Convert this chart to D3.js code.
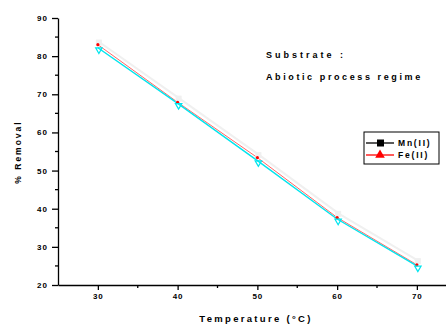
<!DOCTYPE html>
<html><head><meta charset="utf-8">
<script src="https://cdn.jsdelivr.net/npm/d3@7"></script>
<style>body{margin:0;background:#fff}svg{display:block}text{font-family:"Liberation Sans",Arial,sans-serif;font-weight:bold}</style>
</head><body>
<script>
const temperatures = [30, 40, 50, 60, 70];
const mnRemoval = [83.3, 68.6, 53.8, 38.4, 26.0];
const feRemoval = [83.0, 67.9, 53.4, 37.7, 25.3];
const fitRemoval = [82.2, 67.6, 52.6, 37.3, 25.0];
const xTicks = [30, 40, 50, 60, 70];
const xMinor = [35, 45, 55, 65];
const yTicks = [20, 30, 40, 50, 60, 70, 80, 90];
const yMinor = [25, 35, 45, 55, 65, 75, 85];
const legendLabels = ["Mn(II)", "Fe(II)"];

const W = 446, H = 327;
const svg = d3.select("body").append("svg").attr("width", W).attr("height", H);
const x = d3.scaleLinear().domain([25, 75]).range([58, 456.75]);
const y = d3.scaleLinear().domain([20, 90]).range([285, 18]);

// axes
const xAxis = d3.axisBottom(x).tickValues(xTicks).tickSize(5).tickSizeOuter(0).tickPadding(3);
const gx = svg.append("g").attr("transform", `translate(0,${y(20)})`).call(xAxis);
gx.selectAll("text").attr("font-size", 8).attr("letter-spacing", 1).attr("fill", "#000");
gx.select(".domain").attr("stroke-width", 1.3);
gx.selectAll(".tick line").attr("stroke-width", 1.3);
svg.append("g").selectAll("line").data(xMinor).join("line")
  .attr("x1", d => x(d)).attr("x2", d => x(d)).attr("y1", y(20)).attr("y2", y(20) + 3)
  .attr("stroke", "#000").attr("stroke-width", 1.3);

const yAxis = d3.axisLeft(y).tickValues(yTicks).tickSize(6).tickSizeOuter(0).tickPadding(4);
const gy = svg.append("g").attr("transform", `translate(${x(25)},0)`).call(yAxis);
gy.selectAll("text").attr("font-size", 8).attr("letter-spacing", 1).attr("fill", "#000");
gy.select(".domain").attr("stroke-width", 1.3);
gy.selectAll(".tick line").attr("stroke-width", 1.3);
svg.append("g").selectAll("line").data(yMinor).join("line")
  .attr("x1", x(25)).attr("x2", x(25) - 3).attr("y1", d => y(d)).attr("y2", d => y(d))
  .attr("stroke", "#000").attr("stroke-width", 1.3);

// axis titles
svg.append("text").attr("x", 256).attr("y", 322).attr("text-anchor", "middle")
  .attr("font-size", 9.5).attr("letter-spacing", 2.3).text("Temperature (°C)");
svg.append("text").attr("transform", "translate(21,152) rotate(-90)").attr("text-anchor", "middle")
  .attr("font-size", 8.5).attr("letter-spacing", 2).text("% Removal");

// series
const line = vals => d3.line().x((d, i) => x(temperatures[i])).y(d => y(d))(vals);
svg.append("path").attr("d", line(mnRemoval)).attr("fill", "none").attr("stroke", "#f0f0f0").attr("stroke-width", 2)
  .attr("transform", "translate(2,-1)");
svg.append("path").attr("d", line(feRemoval)).attr("fill", "none").attr("stroke", "#ff4040").attr("stroke-width", 0.8);
svg.append("path").attr("d", line(fitRemoval)).attr("fill", "none").attr("stroke", "#00e5ee").attr("stroke-width", 1.4);

svg.append("g").selectAll("rect").data(mnRemoval).join("rect")
  .attr("x", (d, i) => x(temperatures[i]) - 2).attr("y", d => y(d) - 4).attr("width", 6).attr("height", 6)
  .attr("fill", "#f0f0f0");
svg.append("g").selectAll("circle").data(feRemoval).join("circle")
  .attr("cx", (d, i) => x(temperatures[i])).attr("cy", d => y(d)).attr("r", 1.6).attr("fill", "#ff0000");
const tri = d3.symbol().type(d3.symbolTriangle).size(18);
svg.append("g").selectAll("path").data(fitRemoval).join("path")
  .attr("d", tri).attr("transform", (d, i) => `translate(${x(temperatures[i]) + 1},${y(d) + 2}) rotate(180)`)
  .attr("fill", "none").attr("stroke", "#00e5ee").attr("stroke-width", 1.2);

// annotation
svg.append("text").attr("x", 266).attr("y", 58).attr("font-size", 9).attr("letter-spacing", 3).text("Substrate :");
svg.append("text").attr("x", 266).attr("y", 80).attr("font-size", 9).attr("letter-spacing", 2.6).text("Abiotic process regime");

// legend
const lg = svg.append("g");
lg.append("rect").attr("x", 364).attr("y", 132).attr("width", 75).attr("height", 32)
  .attr("fill", "#fff").attr("stroke", "#000").attr("stroke-width", 1);
const legendColors = ["#000", "#ff0000"];
legendLabels.forEach((lab, i) => {
  const yy = 143 + i * 12;
  lg.append("line").attr("x1", 366).attr("x2", 394).attr("y1", yy).attr("y2", yy)
    .attr("stroke", legendColors[i]).attr("stroke-width", 1.3);
  if (i === 0) lg.append("rect").attr("x", 377).attr("y", yy - 3.5).attr("width", 7).attr("height", 7).attr("fill", "#000");
  else lg.append("path").attr("d", d3.symbol().type(d3.symbolTriangle).size(40)).attr("transform", `translate(380,${yy})`).attr("fill", "#ff0000");
  lg.append("text").attr("x", 398).attr("y", yy + 3).attr("font-size", 8.5).attr("letter-spacing", 1.8).text(lab);
});
</script>
</body></html>
